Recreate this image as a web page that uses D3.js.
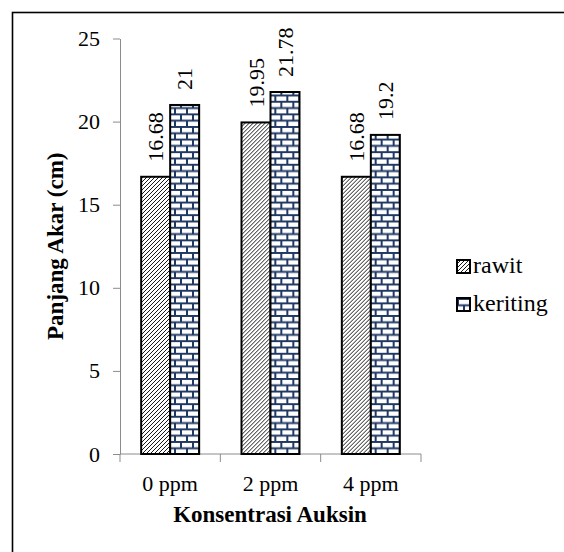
<!DOCTYPE html>
<meta charset="utf-8">
<head>
  <title>panjang akar</title>
</head>
<style>
  body { margin: 0; background: #fff; }
  svg text { font-family: "Liberation Serif", "Times New Roman", serif; fill: #000; }
</style>
<body>
<svg id="chart" width="564" height="552"></svg>

<script src="https://cdn.jsdelivr.net/npm/d3@7"></script>
<script>

// data
var categories = ["0 ppm", "2 ppm", "4 ppm"];
var series = ["rawit", "keriting"];
var rawit = [16.68, 19.95, 16.68];
var keriting = [21, 21.78, 19.2];
var yTicks = [0, 5, 10, 15, 20, 25];

var values = { rawit: rawit, keriting: keriting };
var fills = { rawit: "url(#hatch)", keriting: "url(#brick)" };
var serif = "Liberation Serif, Times New Roman, serif";

var svg = d3.select("#chart").attr("font-family", serif);

// patterns for the bars
var defs = svg.append("defs");
var hatch = defs.append("pattern")
  .attr("id", "hatch")
  .attr("patternUnits", "userSpaceOnUse")
  .attr("width", 4).attr("height", 4);
hatch.append("rect").attr("width", 4).attr("height", 4).attr("fill", "#fff");
hatch.append("path")
  .attr("d", "M-1,1 l2,-2 M0,4 l4,-4 M3,5 l2,-2")
  .attr("stroke", "#000").attr("stroke-width", 0.9);

var brick = defs.append("pattern")
  .attr("id", "brick")
  .attr("patternUnits", "userSpaceOnUse")
  .attr("width", 12).attr("height", 12.6);
brick.append("rect").attr("width", 12).attr("height", 12.6).attr("fill", "#fff");
brick.append("path")
  .attr("d", "M0,1 H12 M0,7.3 H12 M1,0 V7.3 M7,7.3 V12.6")
  .attr("stroke", "#203864").attr("stroke-width", 2);

// outer frame (only top and left edges fall inside the picture)
svg.append("rect")
  .attr("x", 12.5).attr("y", 12.5)
  .attr("width", 700).attr("height", 700)
  .attr("fill", "none")
  .attr("stroke", "#000")
  .attr("stroke-width", 1.6);

var x = d3.scaleBand().domain(categories).range([120, 421]).padding(0);
var x1 = d3.scaleBand().domain(series).range([0, x.bandwidth()])
  .paddingInner(0).paddingOuter(0.73);
var y = d3.scaleLinear().domain([0, 25]).range([454, 38.5]);

var axisColor = "#8c8c8c";

// y axis
var yAxis = svg.append("g")
  .attr("transform", "translate(120,0)")
  .call(d3.axisLeft(y).tickValues(yTicks).tickSize(7).tickSizeOuter(0).tickPadding(13));
yAxis.attr("font-family", serif);
yAxis.select(".domain").attr("stroke", axisColor);
yAxis.selectAll(".tick line").attr("stroke", axisColor);
yAxis.selectAll(".tick text")
  .attr("font-size", 22)
  .attr("fill", "#000");

// x axis line and boundary ticks
var xAxis = svg.append("g");
xAxis.append("line")
  .attr("x1", x.range()[0]).attr("x2", x.range()[1])
  .attr("y1", y(0)).attr("y2", y(0))
  .attr("stroke", axisColor);
var bounds = categories.map(function(d) { return x(d); }).concat([x.range()[1]]);
xAxis.selectAll(".xt")
  .data(bounds)
  .enter().append("line")
  .attr("class", "xt")
  .attr("x1", function(d) { return d; }).attr("x2", function(d) { return d; })
  .attr("y1", y(0)).attr("y2", y(0) + 8)
  .attr("stroke", axisColor);
xAxis.selectAll(".xl")
  .data(categories)
  .enter().append("text")
  .attr("class", "xl")
  .attr("x", function(d) { return x(d) + x.bandwidth() / 2; })
  .attr("y", y(0) + 37)
  .attr("text-anchor", "middle")
  .attr("font-size", 22)
  .text(function(d) { return d; });

// bars
var groups = svg.selectAll(".grp")
  .data(categories)
  .enter().append("g")
  .attr("class", "grp")
  .attr("transform", function(d) { return "translate(" + x(d) + ",0)"; });

groups.selectAll("rect")
  .data(function(d, i) {
    return series.map(function(s) { return { key: s, value: values[s][i] }; });
  })
  .enter().append("rect")
  .attr("x", function(d) { return x1(d.key); })
  .attr("y", function(d) { return y(d.value); })
  .attr("width", x1.bandwidth())
  .attr("height", function(d) { return y(0) - y(d.value); })
  .attr("fill", function(d) { return fills[d.key]; })
  .attr("stroke", "#000")
  .attr("stroke-width", 2);

// rotated value labels
groups.selectAll(".val")
  .data(function(d, i) {
    return series.map(function(s) { return { key: s, value: values[s][i] }; });
  })
  .enter().append("text")
  .attr("class", "val")
  .attr("transform", function(d) {
    return "translate(" + (x1(d.key) + x1.bandwidth() / 2) + "," + (y(d.value) - 15) + ") rotate(-90)";
  })
  .attr("dy", "0.35em")
  .attr("font-size", 22)
  .text(function(d) { return d.value; });

// axis titles
svg.append("text")
  .attr("x", 270).attr("y", 522)
  .attr("text-anchor", "middle")
  .attr("font-size", 23)
  .attr("font-weight", "bold")
  .text("Konsentrasi Auksin");

svg.append("text")
  .attr("transform", "translate(63," + ((y(0) + y(25)) / 2) + ") rotate(-90)")
  .attr("text-anchor", "middle")
  .attr("font-size", 23)
  .attr("font-weight", "bold")
  .text("Panjang Akar (cm)");

// legend
var legend = svg.selectAll(".leg")
  .data(series)
  .enter().append("g")
  .attr("class", "leg")
  .attr("transform", function(d, i) { return "translate(457," + (260 + i * 38) + ")"; });
legend.append("rect")
  .attr("width", 13).attr("height", 13)
  .attr("fill", function(d) { return fills[d]; })
  .attr("stroke", "#000")
  .attr("stroke-width", 2);
legend.append("text")
  .attr("x", 16).attr("y", 13)
  .attr("font-size", 24)
  .text(function(d) { return d; });

</script>
</body>
</html>
